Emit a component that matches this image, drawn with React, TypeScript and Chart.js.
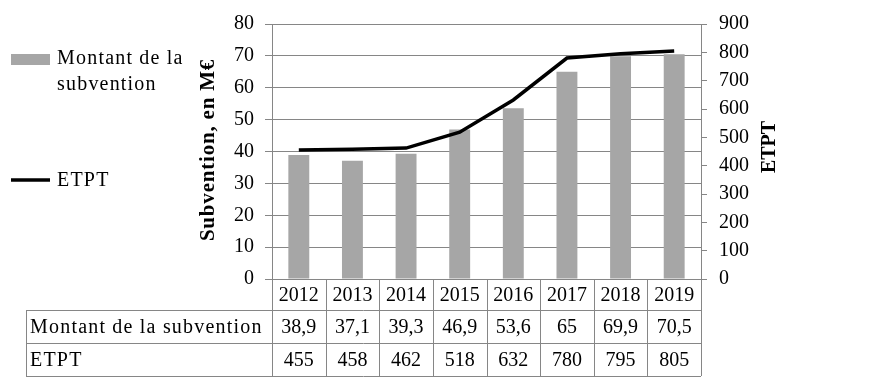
import React, { useEffect, useRef } from "react";
import { Chart, registerables } from "chart.js";

Chart.register(...registerables);

const years = ["2012", "2013", "2014", "2015", "2016", "2017", "2018", "2019"];
const subvention = [38.9, 37.1, 39.3, 46.9, 53.6, 65, 69.9, 70.5];
const etpt = [455, 458, 462, 518, 632, 780, 795, 805];
const subLabel = "Montant de la subvention";
const etptLabel = "ETPT";
const legendLines = ["Montant de la", "subvention"];
const leftTitle = "Subvention, en M€";
const rightTitle = "ETPT";

const FONT = "'Liberation Serif', 'Times New Roman', serif";
const GRID = "#868686";
const BAR = "#A6A6A6";

const fmt = (v: number) => String(v).replace(".", ",");

const setSpacing = (ctx: any, v: string) => {
  if ("letterSpacing" in ctx) ctx.letterSpacing = v;
};

const tablePlugin = {
  id: "tableAndLegend",
  afterDraw(chart: any) {
    const ctx = chart.ctx as CanvasRenderingContext2D;
    const area = chart.chartArea;
    const xs = chart.scales.x;
    const n = years.length;
    const colW = (area.right - area.left) / n;
    const rowTop = area.bottom;
    const rowH = [31, 33, 33];
    const r1 = rowTop + rowH[0];
    const r2 = r1 + rowH[1];
    const r3 = r2 + rowH[2];
    const tableLeft = 26;

    ctx.save();
    ctx.strokeStyle = GRID;
    ctx.lineWidth = 1;
    ctx.beginPath();
    ctx.moveTo(tableLeft, r1 + 0.5);
    ctx.lineTo(area.right, r1 + 0.5);
    ctx.moveTo(tableLeft, r2 + 0.5);
    ctx.lineTo(area.right, r2 + 0.5);
    ctx.moveTo(tableLeft, r3 + 0.5);
    ctx.lineTo(area.right, r3 + 0.5);
    ctx.moveTo(tableLeft + 0.5, r1);
    ctx.lineTo(tableLeft + 0.5, r3);
    for (let i = 0; i <= n; i++) {
      const x = Math.round(area.left + i * colW) + 0.5;
      ctx.moveTo(x, rowTop);
      ctx.lineTo(x, r3);
    }
    ctx.stroke();

    ctx.fillStyle = "#000";
    ctx.font = `20px ${FONT}`;
    ctx.textBaseline = "middle";
    ctx.textAlign = "center";
    for (let i = 0; i < n; i++) {
      const cx = xs.getPixelForValue(i);
      ctx.fillText(years[i], cx, (rowTop + r1) / 2 + 1);
      ctx.fillText(fmt(subvention[i]), cx, (r1 + r2) / 2 + 1);
      ctx.fillText(String(etpt[i]), cx, (r2 + r3) / 2 + 1);
    }
    ctx.textAlign = "left";
    setSpacing(ctx, "1.2px");
    ctx.fillText(subLabel, 30, (r1 + r2) / 2 + 1);
    ctx.fillText(etptLabel, 30, (r2 + r3) / 2 + 1);

    // legend
    ctx.fillStyle = BAR;
    ctx.fillRect(11, 54, 39, 11);
    ctx.fillStyle = "#000";
    ctx.fillText(legendLines[0], 57, 59);
    ctx.fillText(legendLines[1], 57, 85);
    ctx.strokeStyle = "#000";
    ctx.lineWidth = 3.5;
    ctx.beginPath();
    ctx.moveTo(11, 180);
    ctx.lineTo(50, 180);
    ctx.stroke();
    ctx.fillText(etptLabel, 57, 181);

    // axis titles
    ctx.textAlign = "center";
    ctx.font = `bold 21px ${FONT}`;
    setSpacing(ctx, "0.8px");
    ctx.save();
    ctx.translate(209, 150);
    ctx.rotate(-Math.PI / 2);
    ctx.fillText(leftTitle, 0, 0);
    ctx.restore();
    ctx.font = `bold 20px ${FONT}`;
    setSpacing(ctx, "0px");
    ctx.save();
    ctx.translate(770, 147);
    ctx.rotate(-Math.PI / 2);
    ctx.fillText(rightTitle, 0, 0);
    ctx.restore();
    ctx.restore();
  },
};

export default function App() {
  const ref = useRef<HTMLCanvasElement>(null);
  useEffect(() => {
    if (!ref.current) return;
    const chart = new Chart(ref.current, {
      type: "bar",
      data: {
        labels: years,
        datasets: [
          {
            type: "line",
            label: etptLabel,
            data: etpt,
            yAxisID: "y1",
            borderColor: "#000",
            borderWidth: 3.5,
            pointRadius: 0,
            tension: 0,
            order: 0,
          } as any,
          {
            type: "bar",
            label: subLabel,
            data: subvention,
            yAxisID: "y",
            backgroundColor: BAR,
            barPercentage: 0.39,
            categoryPercentage: 1,
            order: 1,
          },
        ],
      },
      options: {
        responsive: false,
        animation: false,
        layout: { padding: { left: 0, right: 0, top: 11, bottom: 108 } },
        plugins: {
          legend: { display: false },
          tooltip: { enabled: false },
        },
        scales: {
          x: { display: false },
          y: {
            position: "left",
            min: 0,
            max: 80,
            ticks: {
              stepSize: 10,
              color: "#000",
              font: { family: FONT, size: 20 },
              padding: 11,
            },
            grid: { color: GRID, tickLength: 7, lineWidth: 1 },
            border: { display: true, color: GRID },
            afterFit: (s: any) => {
              s.width = 272;
            },
          },
          y1: {
            position: "right",
            min: 0,
            max: 900,
            ticks: {
              stepSize: 100,
              color: "#000",
              font: { family: FONT, size: 20 },
              padding: 12,
            },
            grid: { drawOnChartArea: false, color: GRID, tickLength: 6 },
            border: { display: true, color: GRID },
            afterFit: (s: any) => {
              s.width = 184;
            },
          },
        },
      },
      plugins: [tablePlugin],
    });
    return () => chart.destroy();
  }, []);
  return (
    <div style={{ position: "absolute", left: 0, top: 0, width: 885, height: 387, background: "#fff" }}>
      <canvas ref={ref} width={885} height={387} />
    </div>
  );
}
